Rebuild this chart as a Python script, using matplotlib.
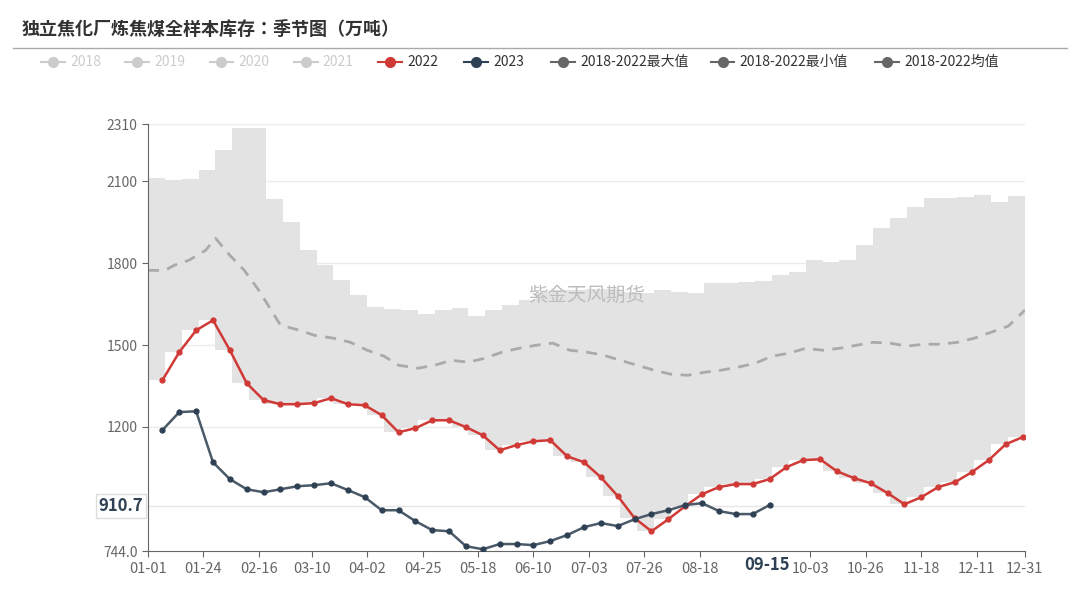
import matplotlib
matplotlib.use("Agg")
import matplotlib.pyplot as plt
from matplotlib import font_manager as fm
from matplotlib.lines import Line2D
import numpy as np

cjk = sorted({f.name for f in fm.fontManager.ttflist if "CJK" in f.name or "Noto Sans SC" in f.name})
plt.rcParams["font.family"] = "sans-serif"
plt.rcParams["font.sans-serif"] = cjk + ["DejaVu Sans"]

v2022 = [1371,1474,1554,1591,1481,1360,1298,1283,1283,1287,1305,1283,1279,1243,1180,1195,1224,1224,1199,1169,
         1114,1133,1147,1151,1092,1070,1015,946,865,817,861,909,953,979,990,990,1008,1052,1078,1081,
         1037,1012,993,957,916,942,979,997,1034,1078,1136,1162]
v2023 = [1188,1254,1257,1070,1008,971,960,971,982,986,993,968,942,894,894,854,821,817,762,751,
         770,770,766,781,803,832,847,836,861,880,894,913,920,891,880,880,913]
vmax = [2112,2104,2108,2141,2214,2295,2295,2035,1950,1847,1793,1738,1683,1639,1631,1628,1613,1628,1635,1606,
        1628,1646,1664,1694,1701,1701,1705,1705,1694,1690,1701,1694,1690,1727,1727,1730,1734,1756,1767,1811,
        1804,1811,1866,1928,1965,2005,2038,2038,2042,2049,2024,2046]
vmin = [1371,1474,1554,1591,1481,1360,1298,1283,1283,1287,1305,1283,1279,1243,1180,1195,1224,1224,1199,1169,
        1114,1133,1147,1151,1092,1070,1015,946,865,817,861,909,953,979,990,990,1008,1052,1078,1081,
        1037,1012,993,957,916,942,979,997,1034,1078,1136,1162]
mean_days = [0,7,11,17,24,28,34,40,46,55,63,69,77,84,91,98,104,112,119,126,133,140,147,154,161,168,175,182,
             189,196,203,210,217,224,231,238,245,252,259,266,273,280,287,294,301,308,315,322,329,336,343,350,357,364]
vmean = [1774,1774,1793,1811,1848,1892,1829,1774,1701,1573,1554,1536,1525,1510,1481,1459,1426,1415,1426,1444,
         1437,1452,1474,1488,1499,1507,1481,1474,1463,1444,1426,1408,1393,1389,1400,1408,1419,1433,1459,1470,
         1488,1481,1488,1499,1510,1507,1496,1503,1503,1510,1525,1547,1569,1628]
tick_days = [0,23,46,68,91,114,137,160,183,206,229,275,298,321,344,364]
tick_labels = ["01-01","01-24","02-16","03-10","04-02","04-25","05-18","06-10","07-03","07-26","08-18",
               "10-03","10-26","11-18","12-11","12-31"]
yticks = [744.0, 1200, 1500, 1800, 2100, 2310]
pointer_day, pointer_label, pointer_value = 257, "09-15", 910.7

days = np.arange(6, 6 + 7 * 52, 7)
fig = plt.figure(figsize=(10.8, 6.03), dpi=100)
ax = fig.add_axes([0.137, 0.086, 0.812, 0.708])
edges = np.arange(0, 7 * 53, 7)
ax.fill_between(edges, vmin + [vmin[-1]], vmax + [vmax[-1]], step="post", color="#e3e3e3", lw=0, zorder=1)
ax.plot(mean_days, vmean, color="#aaaaaa", ls=(0, (4, 3)), lw=2, zorder=2)
ax.plot(days, v2022, color="#d03a36", lw=1.8, marker="o", ms=3.5, zorder=3)
ax.plot(days[:len(v2023)], v2023, color="#4a5a68", lw=1.8, marker="o", ms=3.5, zorder=4, mfc="#2e4053", mec="#2e4053")
ax.axhline(pointer_value, color="#e6e6e6", lw=1, zorder=0)
ax.set_xlim(0, 364)
ax.set_ylim(744, 2310)
ax.set_yticks(yticks)
ax.set_yticklabels(["744.0", "1200", "1500", "1800", "2100", "2310"], fontsize=10, color="#555555")
for y in yticks[1:]:
    ax.axhline(y, color="#ececec", lw=1, zorder=0)
ax.set_xticks(tick_days)
ax.set_xticklabels(tick_labels, fontsize=10.5, color="#555555")
ax.text(pointer_day, 744 - 16, pointer_label, ha="center", va="top", fontsize=12, fontweight="bold",
        color="#2e4053", bbox=dict(fc="white", ec="none", pad=1), zorder=10, clip_on=False)
ax.text(-2, pointer_value, "910.7", ha="right", va="center", fontsize=12, fontweight="bold", color="#2e4053",
        bbox=dict(fc="white", ec="#dddddd", pad=2), zorder=10, clip_on=False)
for s in ["top", "right"]:
    ax.spines[s].set_visible(False)
for s in ["left", "bottom"]:
    ax.spines[s].set_color("#666666")
ax.tick_params(colors="#666666", length=4)
ax.text(0.5, 0.6, "紫金天风期货", transform=ax.transAxes, ha="center", va="center", fontsize=14, color="#bdbdbd", zorder=1.5)

fig.text(0.02, 0.952, "独立焦化厂炼焦煤全样本库存：季节图（万吨）", fontsize=13, fontweight="bold", color="#333333", va="center")
fig.add_artist(Line2D([0.012, 0.988], [0.921, 0.921], color="#aaaaaa", lw=1))
names = ["2018", "2019", "2020", "2021", "2022", "2023", "2018-2022最大值", "2018-2022最小值", "2018-2022均值"]
cols = ["#cccccc"] * 4 + ["#d03a36", "#2e4053", "#666666", "#666666", "#666666"]
tcols = ["#cccccc"] * 4 + ["#333333"] * 5
xs = [0.038, 0.116, 0.194, 0.272, 0.35, 0.43, 0.51, 0.658, 0.81]
for x, n, c, tc in zip(xs, names, cols, tcols):
    fig.add_artist(Line2D([x, x + 0.022], [0.897, 0.897], color=c, lw=1.5))
    fig.add_artist(Line2D([x + 0.011], [0.897], color=c, marker="o", ms=7))
    fig.text(x + 0.027, 0.897, n, fontsize=10, color=tc, va="center")
fig.savefig("out.png", dpi=100, facecolor="white")
